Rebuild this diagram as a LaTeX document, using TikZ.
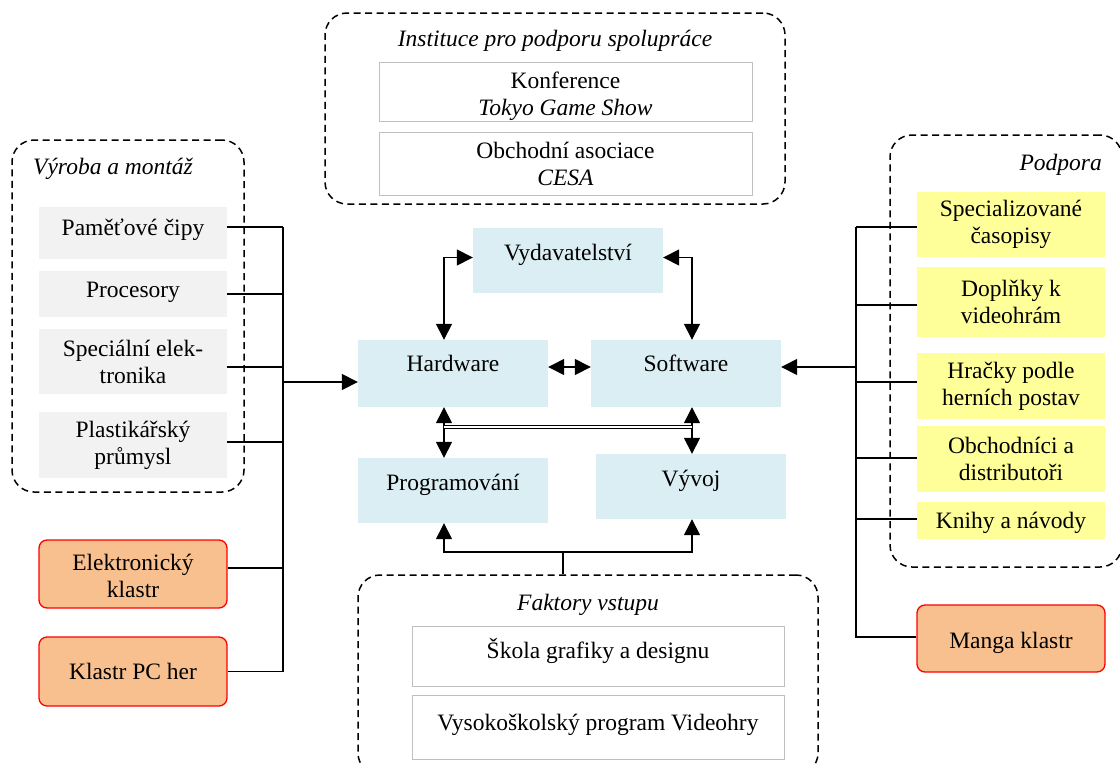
\documentclass[tikz,border=0pt]{standalone}
\usepackage{fontspec}
\setmainfont{Liberation Serif}
\usetikzlibrary{arrows.meta,calc}
\definecolor{bluef}{HTML}{DBEEF3}
\definecolor{grayf}{HTML}{F2F2F2}
\definecolor{yelf}{HTML}{FFFF99}
\definecolor{orf}{HTML}{F8C08E}
\definecolor{wbord}{HTML}{BFBFBF}
\begin{document}
\begin{tikzpicture}[x=1pt,y=-1pt,
  every node/.style={font=\fontsize{23.5}{27}\selectfont, inner sep=0pt, align=center},
  sz/.style 2 args={minimum width=#1pt, minimum height=#2pt},
  grp/.style={draw, line width=1.5pt, dash pattern=on 7pt off 4.5pt, rounded corners=22pt},
  ttl/.style={font=\fontsize{23.5}{27}\selectfont\itshape},
  wbox/.style={draw=wbord, line width=1pt, fill=white},
  gbox/.style={fill=grayf},
  bbox/.style={fill=bluef},
  ybox/.style={fill=yelf},
  obox/.style={fill=orf, draw=red, line width=1.3pt, rounded corners=8pt},
  ln/.style={line width=1.5pt},
  tip/.tip={Triangle[length=16pt,width=16pt]},
  arr/.style={ln, -tip},
  arrb/.style={ln, tip-tip},
  dbl/.style={double, double distance=2pt, line width=0.8pt}
]
\useasboundingbox (0,0) rectangle (1120,766);

% top group
\node[grp, sz={460}{191}] (inst) at (555,108.5) {};
\node[ttl] (instt) at (555,41) {Instituce pro podporu spolupráce};
\node[wbox, sz={373}{59}, label={[yshift=-5pt]center:Konference\\\itshape Tokyo Game Show}] (kon) at (565.5,91.5) {};
\node[wbox, sz={373}{63}] (cesa) at (565.5,163.5) {Obchodní asociace\\\itshape CESA};

% left group
\node[grp, sz={232}{352}] (vyr) at (128,316) {};
\node[ttl, anchor=west] (vyrt) at (33,169) {Výroba a montáž};
\node[gbox, sz={188}{52}, label={[yshift=3pt]center:Paměťové čipy}] (pam) at (133,233) {};
\node[gbox, sz={188}{46}, label={[yshift=2pt]center:Procesory}] (proc) at (133,294) {};
\node[gbox, sz={188}{65}] (spec) at (133,361.5) {Speciální elek-\\tronika};
\node[gbox, sz={188}{66}] (plast) at (133,445) {Plastikářský\\průmysl};
\node[obox, sz={188}{68}, label={[yshift=-2pt]center:Elektronický\\klastr}] (elk) at (133,574) {};
\node[obox, sz={188}{69}] (pch) at (133,671.5) {Klastr PC her};

% central
\node[bbox, sz={190}{65}, label={[yshift=5.5pt]center:Vydavatelství}] (vyd) at (568,260.5) {};
\node[bbox, sz={190}{67}, label={[yshift=10.5pt]center:Hardware}] (hw) at (453,373.5) {};
\node[bbox, sz={190}{67}, label={[yshift=10.5pt]center:Software}] (sw) at (686,373.5) {};
\node[bbox, sz={190}{65}, label={[yshift=5.5pt]center:Programování}] (prog) at (453,490.5) {};
\node[bbox, sz={190}{65}, label={[yshift=5.5pt]center:Vývoj}] (vyv) at (691,486.5) {};

% right group
\node[grp, sz={232}{432}] (pod) at (1006,351) {};
\node[ttl, anchor=east] (podt) at (1102,165) {Podpora};
\node[ybox, sz={188}{65}] (spz) at (1011,224.5) {Specializované\\časopisy};
\node[ybox, sz={188}{70}] (dop) at (1011,302) {Doplňky k\\videohrám};
\node[ybox, sz={188}{66}] (hra) at (1011,386) {Hračky podle\\herních postav};
\node[ybox, sz={188}{66}] (obc) at (1011,459) {Obchodníci a\\distributoři};
\node[ybox, sz={188}{37}, label={[yshift=-2pt]center:Knihy a návody}] (kni) at (1011,520.5) {};
\node[obox, sz={188}{67}, label={[yshift=-4pt]center:Manga klastr}] (man) at (1011,638.5) {};

% bottom group
\node[grp, sz={460}{200}] (fak) at (588,675) {};
\node[ttl] (fakt) at (588,605) {Faktory vstupu};
\node[wbox, sz={372}{60}, label={[yshift=5pt]center:Škola grafiky a designu}] (sko) at (598,656) {};
\node[wbox, sz={372}{64}, label={[yshift=2pt]center:Vysokoškolský program Videohry}] (vys) at (598,727) {};

% left bus
\coordinate (lbT) at (283,227);
\coordinate (lbA) at (283,382);
\draw[ln] ([yshift=6pt]pam.east) -- (lbT);
\draw[ln] (proc.east) -| (lbT);
\draw[ln] ([yshift=-5.5pt]spec.east) -| (lbT);
\draw[ln] ([yshift=3pt]plast.east) -| (lbT);
\draw[ln] ([yshift=6pt]elk.east) -| (lbT);
\draw[ln] (pch.east) -| (lbT);
\draw[arr] (lbA) -- (lbA -| hw.west);

% right bus
\coordinate (rbT) at (856,227);
\coordinate (rbA) at (856,367);
\draw[ln] ([yshift=-2.5pt]spz.west) -- (rbT);
\draw[ln] ([yshift=-3pt]dop.west) -| (rbT);
\draw[ln] ([yshift=4pt]hra.west) -| (rbT);
\draw[ln] ([yshift=1pt]obc.west) -| (rbT);
\draw[ln] ([yshift=1.5pt]kni.west) -| (rbT);
\draw[ln] ([yshift=1.5pt]man.west) -| (rbT);
\draw[arr] (rbA) -- (rbA -| sw.east);

% central arrows
\draw[arrb] ([xshift=-9pt]hw.north) |- ([yshift=3pt]vyd.west);
\draw[arrb] ([yshift=3pt]vyd.east) -| ([xshift=6pt]sw.north);
\draw[arrb] ([yshift=6.5pt]hw.east) -- ([yshift=6.5pt]sw.west);
\draw[arrb] ([xshift=-9pt]hw.south) -- ([xshift=-9pt]prog.north);
\draw[arrb] ([xshift=6pt]sw.south) -- ([xshift=1pt]vyv.north);
\coordinate (m1) at (444,427);
\coordinate (m2) at (692,427);
\draw[dbl] (m1) -- (m2);

% bottom bracket
\coordinate (bj) at (563,552);
\draw[ln] (bj) -- (bj |- fak.north);
\draw[arr] (bj) -| ([xshift=-9pt]prog.south);
\draw[arr] (bj) -| ([xshift=1pt]vyv.south);
\end{tikzpicture}
\end{document}
